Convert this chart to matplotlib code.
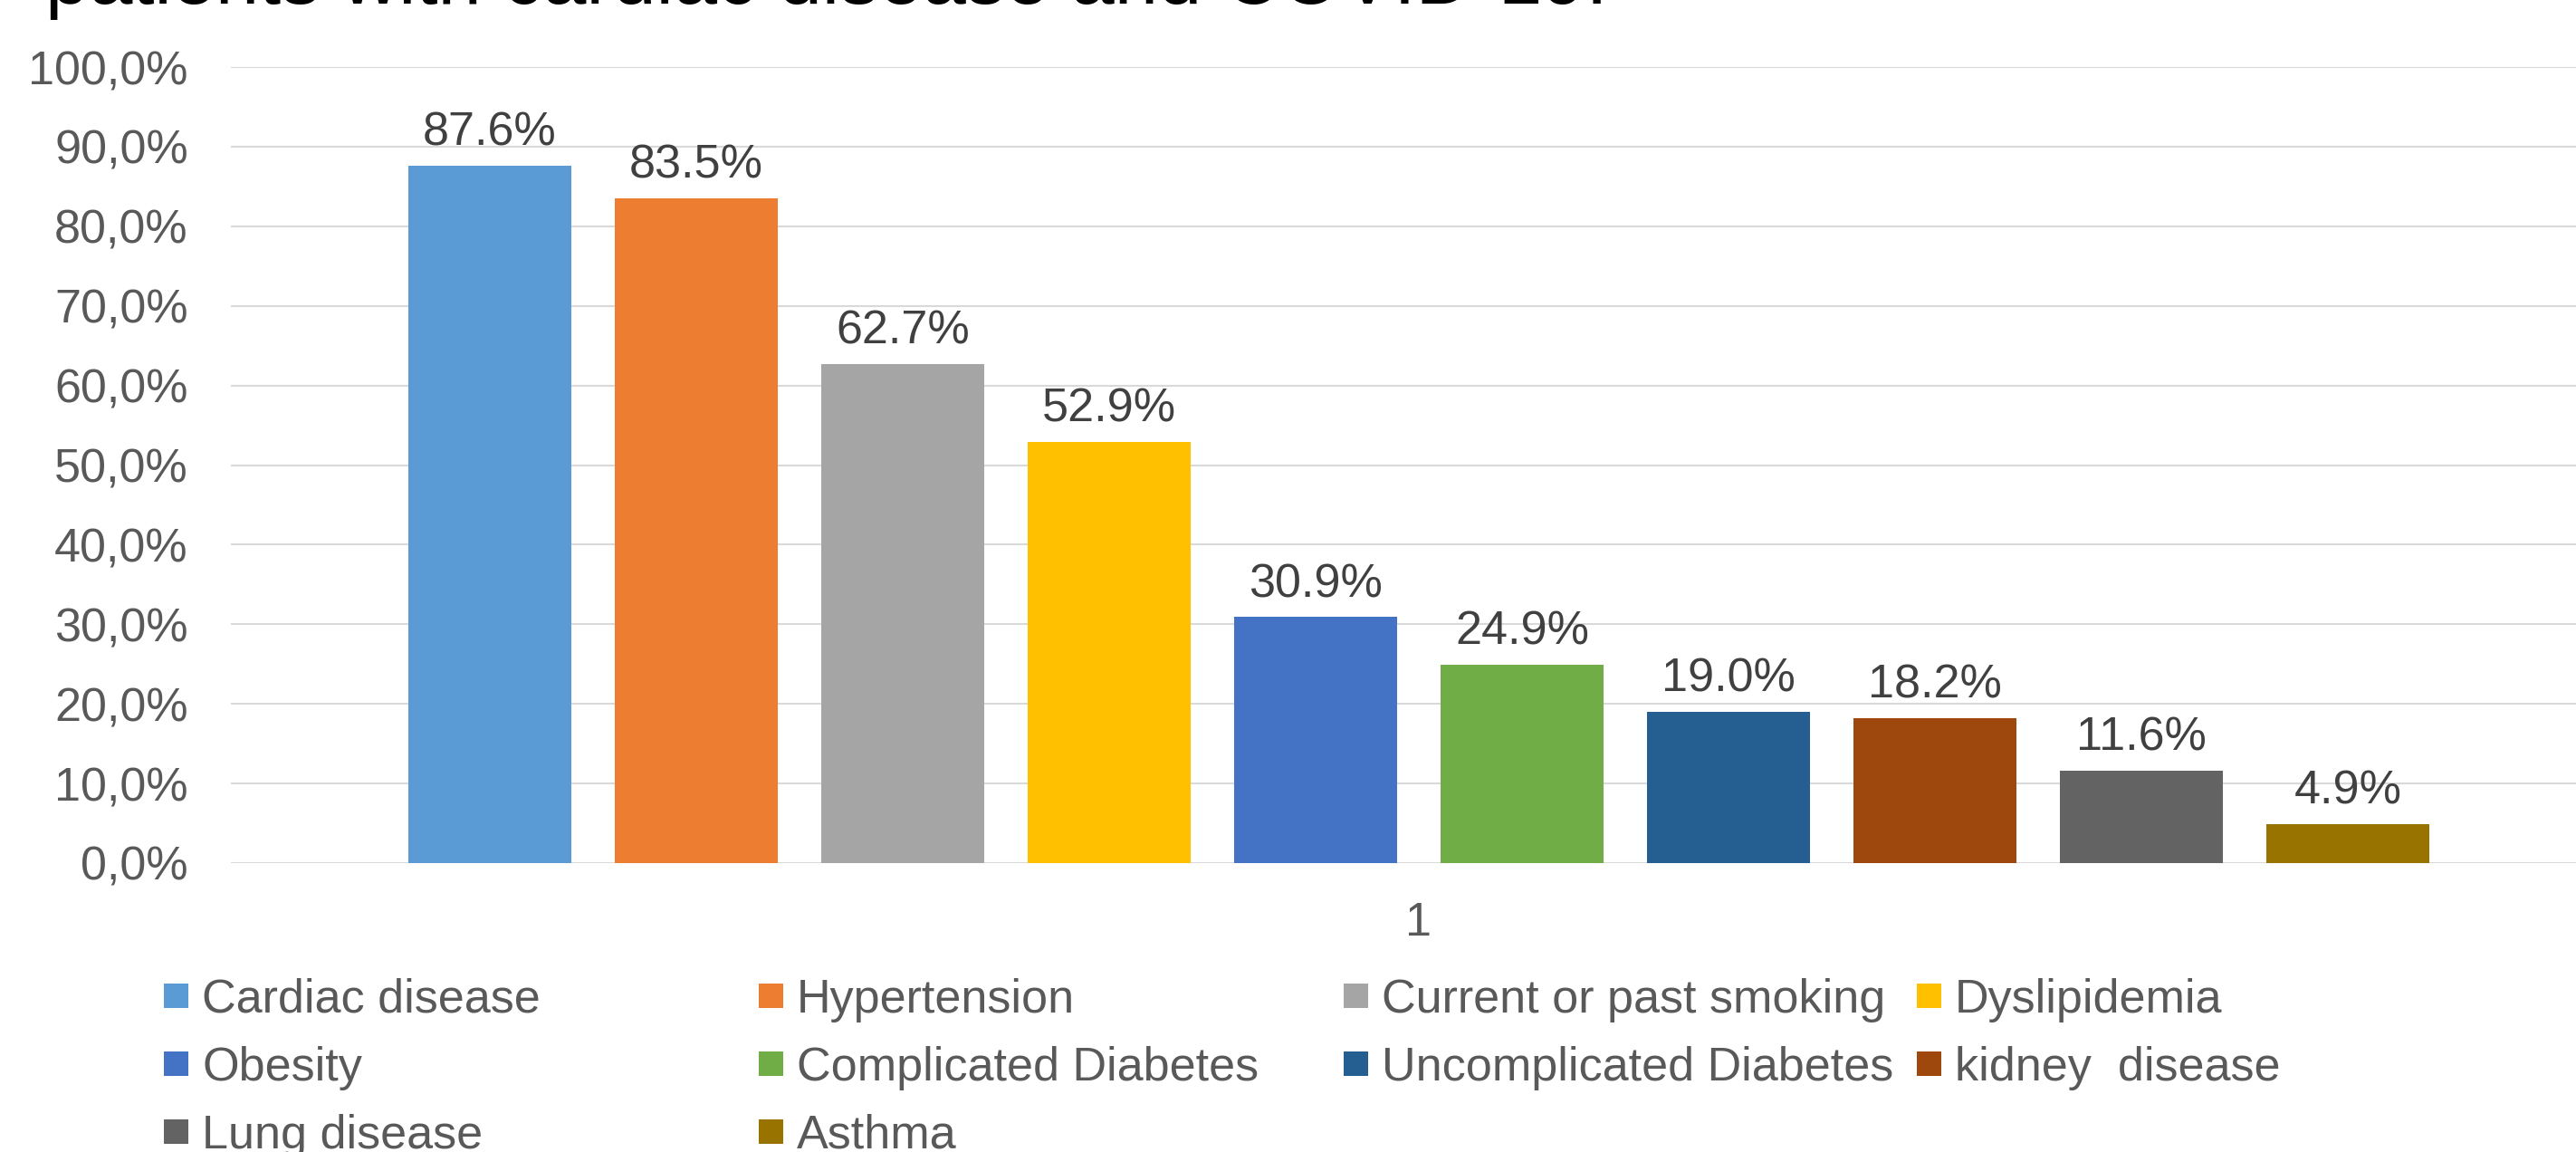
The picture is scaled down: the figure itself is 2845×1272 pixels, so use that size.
import matplotlib
matplotlib.use("Agg")
import matplotlib.pyplot as plt
from matplotlib.patches import Rectangle

plt.rcParams["font.family"] = ["Liberation Sans", "DejaVu Sans"]

# data
categories = [
    "Cardiac disease", "Hypertension", "Current or past smoking", "Dyslipidemia",
    "Obesity", "Complicated Diabetes", "Uncomplicated Diabetes", "kidney  disease",
    "Lung disease", "Asthma",
]
values = [87.6, 83.5, 62.7, 52.9, 30.9, 24.9, 19.0, 18.2, 11.6, 4.9]
colors = [
    "#5B9BD5", "#ED7D31", "#A5A5A5", "#FFC000", "#4472C4",
    "#70AD47", "#255E91", "#9E480E", "#636363", "#997300",
]
y_ticks = list(range(0, 101, 10))
group_label = "1"
title_line = "patients with cardiac disease and COVID-19."

W, H = 2845, 1272
fig = plt.figure(figsize=(W / 100, H / 100), dpi=100)
fig.patch.set_facecolor("white")

# axes box in pixels (left, top, right, bottom); right edge runs past the figure
left_px, top_px, right_px, bottom_px = 255, 74, 2879, 953
ax = fig.add_axes([left_px / W, 1 - bottom_px / H,
                   (right_px - left_px) / W, (bottom_px - top_px) / H])

x = list(range(len(values)))
bars = ax.bar(x, values, width=0.79, color=colors, zorder=3)

for rect, v in zip(bars, values):
    ax.annotate(f"{v:.1f}%", (rect.get_x() + rect.get_width() / 2, v),
                xytext=(0, 16), textcoords="offset points",
                ha="center", va="baseline", fontsize=37.5, color="#404040")

ax.set_xlim(-1.255, 10.255)
ax.set_ylim(0, 100)
ax.set_yticks(y_ticks)
ax.set_yticklabels([f"{t:.1f}%".replace(".", ",") for t in y_ticks])
ax.set_xticks([(len(values) - 1) / 2])
ax.set_xticklabels([group_label])
ax.tick_params(axis="y", length=0, pad=34, labelsize=37.5, labelcolor="#595959")
ax.tick_params(axis="x", length=0, pad=30, labelsize=37.5, labelcolor="#595959")

ax.grid(axis="y", color="#D9D9D9", linewidth=1.5, zorder=0)
ax.set_axisbelow(True)
for s in ax.spines.values():
    s.set_visible(False)

# legend laid out like the Excel one: 4 columns, equal rows
col_left = [181, 838, 1484, 2117]
row_center = [1099, 1174, 1249]
sq = 27
for i, (name, c) in enumerate(zip(categories, colors)):
    cx = col_left[i % 4]
    cy = row_center[i // 4]
    fig.add_artist(Rectangle((cx / W, 1 - (cy + sq / 2) / H), sq / W, sq / H,
                             transform=fig.transFigure, color=c, lw=0))
    fig.text((cx + 42) / W, 1 - cy / H, name, fontsize=37.5, color="#595959",
             ha="left", va="center_baseline")

# title is mostly cut off at the top edge of the picture
fig.text(50 / W, 1 - 4 / H, title_line, fontsize=62.5, color="black",
         ha="left", va="baseline")

fig.savefig("out.png", dpi=100)
